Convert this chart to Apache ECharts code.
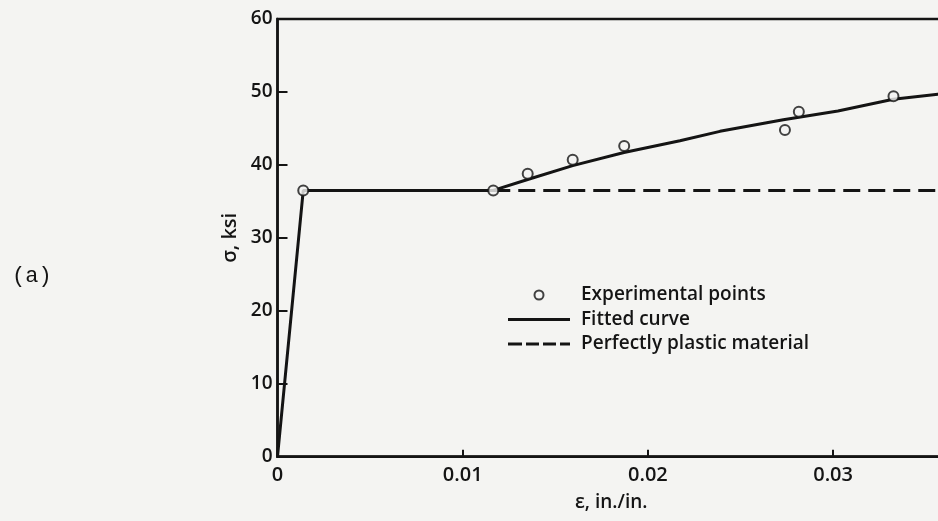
<!DOCTYPE html>
<html>
<head>
<meta charset="utf-8">
<script src="https://cdn.jsdelivr.net/npm/echarts@6/dist/echarts.min.js"></script>
<style>
html,body{margin:0;padding:0;background:#f4f4f2;}
#chart{width:938px;height:521px;}
</style>
</head>
<body>
<div id="chart"></div>
<script>
// Strain (in./in.) and stress (ksi)
var expStrain = [0.00139, 0.01165, 0.01351, 0.01594, 0.01872, 0.02740, 0.02815, 0.03326];
var expStress = [36.5, 36.5, 38.8, 40.7, 42.6, 44.8, 47.3, 49.4];

var fitStrain = [0, 0.00139, 0.01165, 0.01351, 0.01594, 0.01871, 0.02173, 0.02389, 0.02731, 0.03026, 0.03325, 0.03566, 0.0375];
var fitStress = [0, 36.5, 36.5, 38.0, 39.9, 41.7, 43.3, 44.6, 46.2, 47.4, 49.0, 49.7, 50.2];

var plasticStrain = [0.01165, 0.04];
var plasticStress = [36.5, 36.5];

var yTicks = [0, 10, 20, 30, 40, 50, 60];
var xTicks = [0, 0.01, 0.02, 0.03, 0.04];

function pairs(xs, ys) { return xs.map(function (x, i) { return [x, ys[i]]; }); }

var ink = '#141414';
var bg = '#f4f4f2';
var sans = 'Open Sans';

// legend icons drawn as filled paths (tiny corner dots keep the 62x9 box)
var corners = 'M0,0h0.01v0.01h-0.01zM61.99,8.99h0.01v0.01h-0.01z';
var solidIcon = 'path://' + corners + 'M0,3h62v3h-62z';
var dashedIcon = 'path://' + corners + 'M0,3h14v3h-14zM18,3h13v3h-13zM35,3h13v3h-13zM52,3h10v3h-10z';

var chart = echarts.init(document.getElementById('chart'));
chart.setOption({
  backgroundColor: bg,
  animation: false,
  grid: {
    left: 277.5, top: 19, width: 740.8, height: 437.7,
    outerBoundsMode: 'none', containLabel: false,
    show: true, borderColor: ink, borderWidth: 2.5, backgroundColor: 'transparent'
  },
  xAxis: {
    type: 'value', min: 0, max: 0.04, interval: 0.01,
    axisLine: { show: true, lineStyle: { color: ink, width: 2.5 } },
    axisTick: { show: true, inside: true, length: 7, lineStyle: { color: ink, width: 2 } },
    splitLine: { show: false },
    axisLabel: {
      color: ink, fontFamily: sans, fontWeight: 600, fontSize: 20, margin: 9,
      formatter: function (v) { return v === 0 ? '0' : String(Number(v.toFixed(2))); }
    }
  },
  yAxis: {
    type: 'value', min: 0, max: 60, interval: 10,
    name: 'σ, ksi', nameLocation: 'middle', nameRotate: 90, nameGap: 37,
    nameTextStyle: { color: ink, fontFamily: sans, fontWeight: 600, fontSize: 20 },
    axisLine: { show: true, lineStyle: { color: ink, width: 2.5 } },
    axisTick: { show: true, inside: true, length: 10, lineStyle: { color: ink, width: 2 } },
    splitLine: { show: false },
    axisLabel: { color: ink, fontFamily: sans, fontWeight: 600, fontSize: 19, margin: 5 }
  },
  legend: {
    orient: 'vertical', left: 503, top: 280,
    itemWidth: 62, itemHeight: 9, itemGap: 4.5,
    textStyle: { color: ink, fontFamily: sans, fontWeight: 600, fontSize: 19, lineHeight: 20, padding: [0, 0, 0, 6] },
    data: [
      { name: 'Experimental points' },
      { name: 'Fitted curve', icon: solidIcon, itemStyle: { color: ink, borderWidth: 0 } },
      { name: 'Perfectly plastic material', icon: dashedIcon, itemStyle: { color: ink, borderWidth: 0 } }
    ]
  },
  graphic: [
    { type: 'text', left: 12, top: 265, style: { text: '(a)', fill: ink, font: '22px "Liberation Mono"' } },
    { type: 'text', left: 575, top: 493, style: { text: 'ε, in./in.', fill: ink, font: '600 19px "Open Sans"' } }
  ],
  series: [
    {
      name: 'Experimental points', type: 'scatter', z: 5,
      data: pairs(expStrain, expStress),
      symbol: 'circle', symbolSize: 10,
      itemStyle: { color: bg, borderColor: ink, borderWidth: 2 }
    },
    {
      name: 'Fitted curve', type: 'line', z: 3,
      data: pairs(fitStrain, fitStress),
      symbol: 'none', showSymbol: false,
      lineStyle: { color: ink, width: 3 },
      itemStyle: { color: ink }
    },
    {
      name: 'Perfectly plastic material', type: 'line', z: 2,
      data: pairs(plasticStrain, plasticStress),
      symbol: 'none', showSymbol: false,
      lineStyle: { color: ink, width: 3, type: [17, 8] },
      itemStyle: { color: ink }
    }
  ]
});
</script>
</body>
</html>
